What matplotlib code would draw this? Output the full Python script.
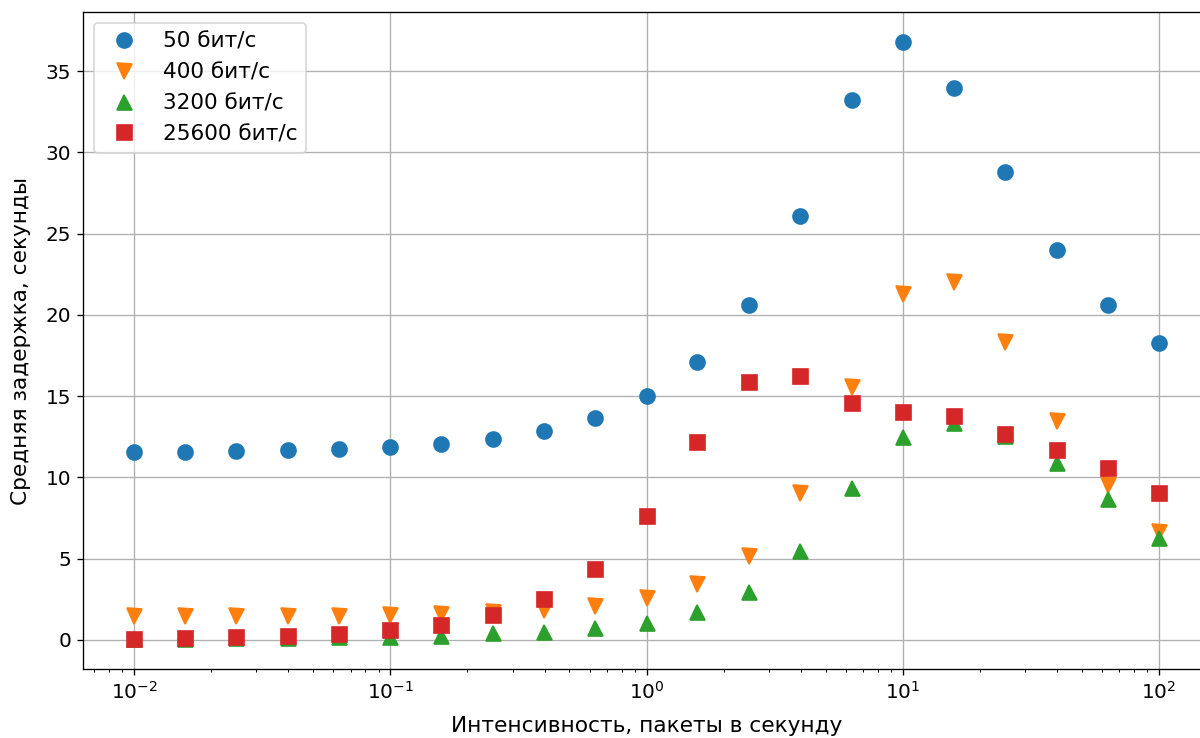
import matplotlib
matplotlib.use("Agg")
import matplotlib.pyplot as plt

# intensity, packets per second (log grid, step 10^0.2)
rate = [0.01, 0.0158, 0.0251, 0.0398, 0.0631, 0.1, 0.158, 0.251, 0.398, 0.631,
        1.0, 1.58, 2.51, 3.98, 6.31, 10.0, 15.8, 25.1, 39.8, 63.1, 100.0]

delay_50 = [11.58, 11.58, 11.62, 11.66, 11.72, 11.87, 12.07, 12.36, 12.85, 13.65,
            14.98, 17.12, 20.6, 26.1, 33.25, 36.8, 33.95, 28.8, 24.0, 20.58, 18.3]
delay_400 = [1.45, 1.45, 1.45, 1.47, 1.5, 1.55, 1.62, 1.72, 1.82, 2.11,
             2.58, 3.44, 5.18, 9.02, 15.57, 21.3, 22.0, 18.36, 13.5, 9.54, 6.67]
delay_3200 = [0.05, 0.07, 0.09, 0.12, 0.18, 0.2, 0.27, 0.41, 0.51, 0.72,
              1.06, 1.7, 2.97, 5.48, 9.35, 12.5, 13.35, 12.55, 10.87, 8.66, 6.3]
delay_25600 = [0.08, 0.12, 0.16, 0.22, 0.37, 0.59, 0.95, 1.55, 2.54, 4.38,
               7.6, 12.2, 15.9, 16.27, 14.58, 14.03, 13.77, 12.68, 11.67, 10.57, 9.06]

series = [
    (delay_50, "o", "50 бит/с"),
    (delay_400, "v", "400 бит/с"),
    (delay_3200, "^", "3200 бит/с"),
    (delay_25600, "s", "25600 бит/с"),
]

fig = plt.figure(figsize=(10, 6.15), dpi=120)
# axes run past the right edge, as in the reference crop
ax = fig.add_axes([0.0690, 0.0935, 0.9396, 0.8902])

for values, marker, label in series:
    ax.plot(rate, values, marker, ms=9, label=label)

ax.set_xscale("log")
ax.set_xlim(10 ** -2.2, 10 ** 2.2)
ax.grid(True)
ax.set_xlabel("Интенсивность, пакеты в секунду", fontsize=13, labelpad=8)
ax.set_ylabel("Средняя задержка, секунды", fontsize=13, labelpad=9)
ax.tick_params(labelsize=12)
ax.legend(loc="upper left", fontsize=13)

fig.savefig("out.png", dpi=120)
